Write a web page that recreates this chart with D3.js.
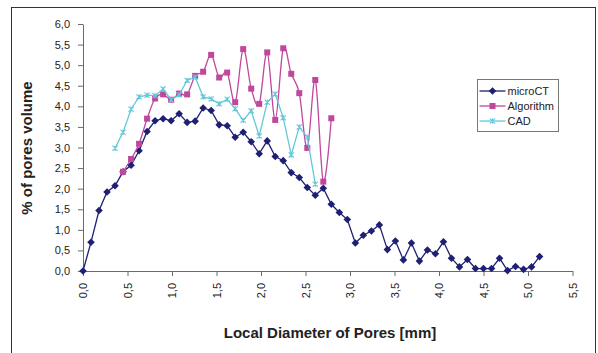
<!DOCTYPE html>
<html>
<head>
<meta charset="utf-8">
<script src="https://cdn.jsdelivr.net/npm/d3@7"></script>
<style>
  body { margin: 0; background: #fff; }
  svg { font-family: "Liberation Sans", Arial, sans-serif; }
</style>
</head>
<body>
<div id="chart"></div>
<script>
// microCT series (x in mm, y in %)
const microX = [0.00, 0.09, 0.18, 0.27, 0.36, 0.45, 0.54, 0.63, 0.72, 0.81, 0.90, 0.99, 1.08, 1.17, 1.26, 1.35, 1.44, 1.53, 1.62, 1.71,
  1.80, 1.89, 1.98, 2.07, 2.16, 2.25, 2.34, 2.43, 2.52, 2.61, 2.70, 2.79, 2.88, 2.97, 3.06, 3.15, 3.24, 3.33, 3.42, 3.51,
  3.60, 3.69, 3.78, 3.87, 3.96, 4.05, 4.14, 4.23, 4.32, 4.41, 4.50, 4.59, 4.68, 4.77, 4.86, 4.95, 5.04, 5.13];
const microY = [0.00, 0.70, 1.47, 1.92, 2.07, 2.41, 2.57, 2.92, 3.39, 3.65, 3.70, 3.65, 3.82, 3.61, 3.64, 3.96, 3.90, 3.55, 3.53, 3.25,
  3.37, 3.14, 2.85, 3.16, 2.78, 2.68, 2.39, 2.27, 2.03, 1.84, 2.01, 1.62, 1.42, 1.25, 0.68, 0.87, 0.97, 1.12, 0.52, 0.73,
  0.27, 0.68, 0.24, 0.51, 0.42, 0.71, 0.31, 0.10, 0.28, 0.06, 0.06, 0.06, 0.31, 0.01, 0.11, 0.04, 0.10, 0.35];

// Algorithm series
const algoX = [0.45, 0.54, 0.63, 0.72, 0.81, 0.90, 0.99, 1.08, 1.17, 1.26, 1.35, 1.44, 1.53, 1.62, 1.71, 1.80, 1.89, 1.98, 2.07, 2.16,
  2.25, 2.34, 2.43, 2.52, 2.61, 2.70, 2.79];
const algoY = [2.41, 2.72, 3.09, 3.70, 4.19, 4.29, 4.16, 4.31, 4.29, 4.74, 4.84, 5.25, 4.70, 4.82, 4.10, 5.39, 4.43, 4.06, 5.31, 3.67,
  5.41, 4.79, 4.32, 2.99, 4.64, 2.17, 3.71];

// CAD series
const cadX = [0.36, 0.45, 0.54, 0.63, 0.72, 0.81, 0.90, 0.99, 1.08, 1.17, 1.26, 1.35, 1.44, 1.53, 1.62, 1.71, 1.80, 1.89, 1.98, 2.07,
  2.16, 2.25, 2.34, 2.43, 2.52, 2.61];
const cadY = [2.98, 3.37, 3.93, 4.23, 4.27, 4.26, 4.42, 4.16, 4.28, 4.63, 4.71, 4.23, 4.18, 4.06, 4.17, 3.94, 3.66, 3.89, 3.28, 4.10,
  4.30, 3.72, 2.82, 3.50, 3.25, 2.11];

const xTicks = [0, 0.5, 1, 1.5, 2, 2.5, 3, 3.5, 4, 4.5, 5, 5.5];
const yTicks = [0, 0.5, 1, 1.5, 2, 2.5, 3, 3.5, 4, 4.5, 5, 5.5, 6];
const seriesNames = ['microCT', 'Algorithm', 'CAD'];

const width = 598, height = 353;
const margin = { top: 24, right: 25.5, bottom: 82, left: 83 };
const plotW = width - margin.left - margin.right;
const plotH = height - margin.top - margin.bottom;

const colors = { microCT: '#1f1f75', Algorithm: '#c0479c', CAD: '#62c8dc' };
const axisColor = '#6a6a6a';
const fmt = d => d.toFixed(1).replace('.', ',');

const svg = d3.select('#chart').append('svg')
  .attr('width', width).attr('height', height);

// outer chart frame
svg.append('rect')
  .attr('x', 11.5).attr('y', 7.5)
  .attr('width', 584).attr('height', 360)
  .attr('fill', 'none').attr('stroke', '#333').attr('stroke-width', 1);

const g = svg.append('g').attr('transform', `translate(${margin.left},${margin.top})`);

const xScale = d3.scaleLinear().domain([0, 5.5]).range([0, plotW]);
const yScale = d3.scaleLinear().domain([0, 6]).range([plotH, 0]);

// axes
const xAxis = d3.axisBottom(xScale).tickValues(xTicks).tickFormat(fmt).tickSize(5).tickSizeOuter(0);
const yAxis = d3.axisLeft(yScale).tickValues(yTicks).tickFormat(fmt).tickSize(5).tickSizeOuter(0).tickPadding(8);

const gx = g.append('g').attr('transform', `translate(0,${plotH})`).call(xAxis);
gx.selectAll('text')
  .attr('y', 0).attr('x', -12).attr('dy', '0.35em')
  .attr('transform', 'rotate(-90)')
  .style('text-anchor', 'end');

const gy = g.append('g').call(yAxis);

[gx, gy].forEach(a => {
  a.select('.domain').attr('stroke', axisColor);
  a.selectAll('.tick line').attr('stroke', axisColor);
  a.selectAll('text').attr('fill', '#222').style('font-size', '11px')
    .style('font-family', '"Liberation Sans", Arial, sans-serif');
});

// axis titles
svg.append('text')
  .attr('x', 330).attr('y', 338)
  .attr('text-anchor', 'middle')
  .style('font-size', '15px').style('font-weight', 'bold').attr('fill', '#222')
  .text('Local Diameter of Pores [mm]');

svg.append('text')
  .attr('transform', 'translate(32,148) rotate(-90)')
  .attr('text-anchor', 'middle')
  .style('font-size', '15px').style('font-weight', 'bold').attr('fill', '#222')
  .text('% of pores volume');

// marker drawing
function marker(sel, name) {
  if (name === 'microCT') {
    sel.append('path').attr('d', 'M0,-3.8L3.8,0L0,3.8L-3.8,0Z').attr('fill', colors[name]);
  } else if (name === 'Algorithm') {
    sel.append('rect').attr('x', -3).attr('y', -3).attr('width', 6).attr('height', 6).attr('fill', colors[name]);
  } else {
    sel.append('path').attr('d', 'M-2.6,-2.6L2.6,2.6M-2.6,2.6L2.6,-2.6M0,-2.6L0,2.6')
      .attr('stroke', colors[name]).attr('stroke-width', 1.1).attr('fill', 'none');
  }
}

const series = [
  { name: 'microCT', xs: microX, ys: microY, curve: d3.curveLinear },
  { name: 'Algorithm', xs: algoX, ys: algoY, curve: d3.curveCardinal.tension(0) },
  { name: 'CAD', xs: cadX, ys: cadY, curve: d3.curveLinear }
];

series.forEach(s => {
  const pts = s.xs.map((x, i) => [x, s.ys[i]]);
  const line = d3.line().x(d => xScale(d[0])).y(d => yScale(d[1])).curve(s.curve);
  g.append('path')
    .datum(pts)
    .attr('d', line)
    .attr('fill', 'none')
    .attr('stroke', colors[s.name])
    .attr('stroke-width', 1.3);
  g.selectAll('.m-' + s.name)
    .data(pts).enter().append('g')
    .attr('class', 'm-' + s.name)
    .attr('transform', d => `translate(${xScale(d[0])},${yScale(d[1])})`)
    .each(function () { marker(d3.select(this), s.name); });
});

// legend
const legend = svg.append('g').attr('transform', 'translate(477.5,79.5)');
legend.append('rect')
  .attr('width', 81).attr('height', 52)
  .attr('fill', '#fff').attr('stroke', '#777');

seriesNames.forEach((name, i) => {
  const row = legend.append('g').attr('transform', `translate(0,${11.5 + i * 15})`);
  row.append('line').attr('x1', 2).attr('x2', 28).attr('y1', 0).attr('y2', 0)
    .attr('stroke', colors[name]).attr('stroke-width', 1.3);
  const m = row.append('g').attr('transform', 'translate(15,0)');
  marker(m, name);
  row.append('text')
    .attr('x', 30).attr('y', 0).attr('dy', '0.35em')
    .style('font-size', '11px').attr('fill', '#222')
    .text(name);
});
</script>
</body>
</html>
